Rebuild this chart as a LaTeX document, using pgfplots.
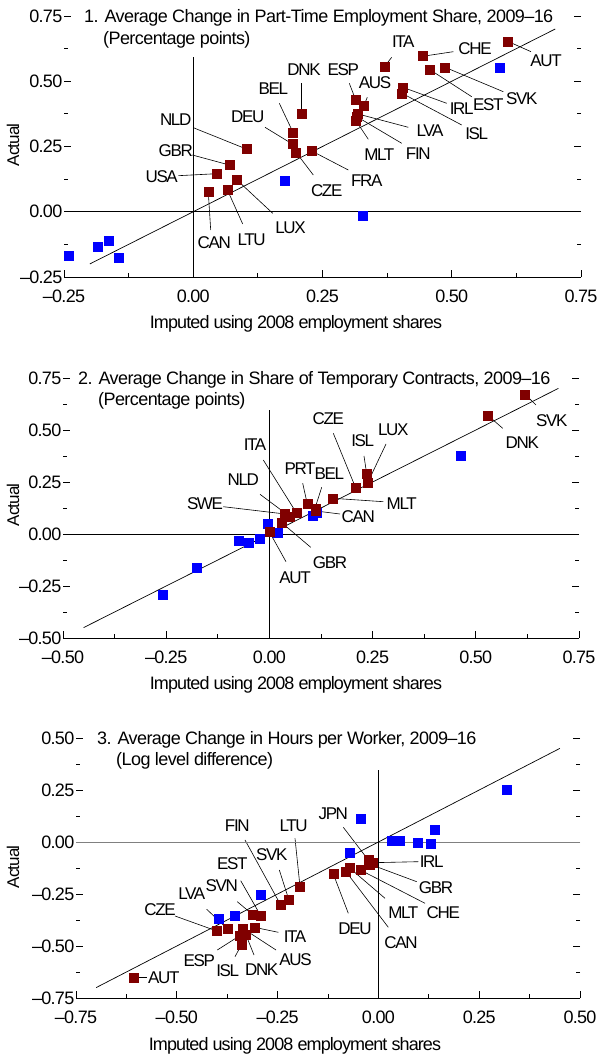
\documentclass[border=0pt]{standalone}
\usepackage{fontspec}
\setmainfont{Liberation Sans}[LetterSpace=-4]
\newfontfamily\titlefont{Liberation Sans}[LetterSpace=-3.2]
\newfontfamily\labfont{Liberation Sans}[LetterSpace=-8]
\newfontfamily\xlabfont{Liberation Sans}[LetterSpace=-5]
\usepackage{pgfplots}
\pgfplotsset{compat=1.18}
\definecolor{mred}{RGB}{128,0,0}
\definecolor{mblue}{RGB}{0,0,255}
\pgfplotsset{
  panel/.style={
    scale only axis, anchor=south west,
    axis line style={draw=none},
    tick style={black, line width=0.9pt},
    major tick length=7pt, minor tick length=4pt,
    minor tick num=1,
    xtick pos=left, ytick pos=both, yticklabel pos=left,
    tick label style={font=\fontsize{18}{20}\selectfont},
    yticklabel style={inner sep=1.5pt},
    xticklabel style={inner sep=2pt, yshift=-11pt},
    clip=false,
  },
  redpts/.style={only marks, mark=square*, mark size=4.5pt, mark options={draw=mred, fill=mred}},
  bluepts/.style={only marks, mark=square*, mark size=4.5pt, mark options={draw=mblue, fill=mblue}},
}
\tikzset{
  lab/.style={font=\labfont\fontsize{17}{17}\selectfont, inner sep=0pt},
  ttl/.style={font=\titlefont\fontsize{18}{18}\selectfont, anchor=base west, inner sep=0pt},
  xl/.style={font=\xlabfont\fontsize{18}{18}\selectfont, anchor=base, inner sep=0pt},
  yl/.style={font=\xlabfont\fontsize{17}{17}\selectfont, rotate=90, inner sep=0pt},
  ld/.style={black, line width=0.6pt},
}
\begin{document}
\begin{tikzpicture}
\useasboundingbox (0,0) rectangle (599pt,1055pt);
% ---------- labels, leader lines, titles (pixel coordinates) ----------
\begin{scope}[x=1pt,y=-1pt,shift={(0pt,1055pt)}]
% panel 1
\node[ttl] at (84,22.7) {1. Average Change in Part-Time Employment Share, 2009–16};
\node[ttl] at (103,44.5) {(Percentage points)};
\node[xl] at (296,329) {Imputed using 2008 employment shares};
\node[yl] at (13,145) {Actual};
\node[lab] at (175.7,120) {NLD}; \draw[ld] (193.3,127.7) -- (246.3,149);
\node[lab] at (175.7,150.7) {GBR}; \draw[ld] (192.3,155) -- (229.3,165);
\node[lab] at (161.7,176.7) {USA}; \draw[ld] (178.3,175.7) -- (216.7,173.7);
\node[lab] at (214.3,242.7) {CAN}; \draw[ld] (210.7,230) -- (208.3,192.3);
\node[lab] at (251.7,239.3) {LTU}; \draw[ld] (242.7,224) -- (227.3,189.7);
\node[lab] at (290.5,228) {LUX}; \draw[ld] (272.7,213.3) -- (237.3,180.3);
\node[lab] at (273.3,88.3) {BEL}; \draw[ld] (279.3,103.3) -- (293.3,133);
\node[lab] at (247.7,116.7) {DEU}; \draw[ld] (265,127.3) -- (292.3,144);
\node[lab] at (304,70) {DNK}; \draw[ld] (301.3,83.3) -- (301.3,114);
\node[lab] at (343.3,69.3) {ESP}; \draw[ld] (349.3,83.3) -- (355.7,100);
\node[lab] at (375,82.7) {AUS}; \draw[ld] (367.3,97.3) -- (364,105.3);
\node[lab] at (403.3,41.7) {ITA}; \draw[ld] (391.7,57.3) -- (384.7,66.3);
\node[lab] at (475,48.3) {CHE}; \draw[ld] (453.3,51.7) -- (422.7,56.3);
\node[lab] at (546,61) {AUT}; \draw[ld] (531,51.7) -- (507.7,41.3);
\node[lab] at (521.7,98.3) {SVK}; \draw[ld] (503.3,91.7) -- (445,67.3);
\node[lab] at (488.3,105) {EST}; \draw[ld] (471.7,96.7) -- (429.3,69.3);
\node[lab] at (461.7,108.3) {IRL}; \draw[ld] (446.7,103.3) -- (402.7,87.3);
\node[lab] at (476.7,133.3) {ISL}; \draw[ld] (461.7,125) -- (402,93.3);
\node[lab] at (430,130.7) {LVA}; \draw[ld] (408.3,127.3) -- (358,114);
\node[lab] at (418.3,154) {FIN}; \draw[ld] (401.7,143.3) -- (357.3,117);
\node[lab] at (379.3,155) {MLT}; \draw[ld] (368.3,139.3) -- (356.3,121.3);
\node[lab] at (366.7,181) {FRA}; \draw[ld] (348.3,170) -- (312.3,151.3);
\node[lab] at (326.7,190.7) {CZE}; \draw[ld] (313.3,175) -- (296,152.3);
% panel 2
\node[ttl] at (78,385) {2. Average Change in Share of Temporary Contracts, 2009–16};
\node[ttl] at (98,405.5) {(Percentage points)};
\node[xl] at (296,690) {Imputed using 2008 employment shares};
\node[yl] at (13,505) {Actual};
\node[lab] at (205,504) {SWE}; \draw[ld] (223.3,506.7) -- (285,514);
\node[lab] at (243.3,480) {NLD}; \draw[ld] (260,494.3) -- (290,516.7);
\node[lab] at (255,445) {ITA}; \draw[ld] (263.3,460) -- (296.7,513.3);
\node[lab] at (330,562.7) {GBR}; \draw[ld] (310.7,547.3) -- (281.7,522.7);
\node[lab] at (295,578) {AUT}; \draw[ld] (286,561.7) -- (269.3,531.7);
\node[lab] at (300,468.3) {PRT}; \draw[ld] (302.7,483.3) -- (307.3,504);
\node[lab] at (329.3,474) {BEL}; \draw[ld] (321.7,487.3) -- (315,508.3);
\node[lab] at (358.3,516.7) {CAN}; \draw[ld] (340,514) -- (316,511);
\node[lab] at (401.7,504) {MLT}; \draw[ld] (383.3,501.7) -- (332.7,498.3);
\node[lab] at (328.3,418.3) {CZE}; \draw[ld] (333.3,433.3) -- (355.7,488);
\node[lab] at (362.7,440.7) {ISL}; \draw[ld] (364,456) -- (366.7,474);
\node[lab] at (393.3,430) {LUX}; \draw[ld] (386,444) -- (367.7,482.7);
\node[lab] at (522.3,442.7) {DNK}; \draw[ld] (502.7,428.3) -- (487.7,415.3);
\node[lab] at (551.7,421) {SVK}; \draw[ld] (536,405) -- (525,394.3);
% panel 3
\node[ttl] at (97,745) {3. Average Change in Hours per Worker, 2009–16};
\node[ttl] at (116,766) {(Log level difference)};
\node[xl] at (295,1050) {Imputed using 2008 employment shares};
\node[yl] at (13,867) {Actual};
\node[lab] at (163.8,977.3) {AUT}; \draw[ld] (133.3,977.3) -- (147,977.3);
\node[lab] at (160,910) {CZE}; \draw[ld] (175,916) -- (216.7,931);
\node[lab] at (191.7,893.3) {LVA}; \draw[ld] (206.7,909.3) -- (227.7,929);
\node[lab] at (221.7,885.7) {SVN}; \draw[ld] (237.3,901.7) -- (252.3,914.3);
\node[lab] at (232.3,864) {EST}; \draw[ld] (240.7,880.7) -- (260.7,915.7);
\node[lab] at (237.3,826) {FIN}; \draw[ld] (245,840) -- (280.7,905);
\node[lab] at (271.7,855) {SVK}; \draw[ld] (279.3,870) -- (288.7,899.3);
\node[lab] at (293.7,826) {LTU}; \draw[ld] (295,838.3) -- (300,886.7);
\node[lab] at (295,936.7) {ITA}; \draw[ld] (278.3,932.3) -- (254.3,927.3);
\node[lab] at (295.5,959.3) {AUS}; \draw[ld] (276,950) -- (242.7,928.3);
\node[lab] at (261.7,970) {DNK}; \draw[ld] (254,955) -- (246,935);
\node[lab] at (227.7,970.7) {ISL}; \draw[ld] (235,956.7) -- (241.7,944.3);
\node[lab] at (199.3,960.7) {ESP}; \draw[ld] (217.3,950) -- (239.3,936);
\node[lab] at (333.3,813.3) {JPN}; \draw[ld] (343.3,827.3) -- (368.3,860);
\node[lab] at (431.7,861.7) {IRL}; \draw[ld] (418.3,861.7) -- (372.7,862.7);
\node[lab] at (436,887.7) {GBR}; \draw[ld] (416.7,881.7) -- (370,864.3);
\node[lab] at (443.3,912.7) {CHE}; \draw[ld] (425,903.3) -- (360.3,870);
\node[lab] at (403.3,912.7) {MLT}; \draw[ld] (385,898.3) -- (349.3,867.7);
\node[lab] at (401,942.7) {CAN}; \draw[ld] (388.3,927.3) -- (346,871.7);
\node[lab] at (355,928.3) {DEU}; \draw[ld] (348.3,913.3) -- (333.3,874);
\end{scope}

% ---------------- Panel 1 ----------------
\begin{axis}[panel, at={(64pt,778pt)}, width=517pt, height=261pt,
  xmin=-0.25, xmax=0.75, ymin=-0.25, ymax=0.75,
  xtick={-0.25,0,0.25,0.5,0.75}, xticklabels={–0.25,0.00,0.25,0.50,0.75},
  ytick={-0.25,0,0.25,0.5,0.75}, yticklabels={–0.25,0.00,0.25,0.50,0.75}]
\draw[black, line width=0.9pt] (rel axis cs:0,0) -- (rel axis cs:1,0);
\draw[black, line width=0.8pt] (axis cs:-0.25,0) -- (axis cs:0.75,0);
\draw[black, line width=0.8pt] (axis cs:0,-0.25) -- (axis cs:0,0.593);
\addplot[black, line width=0.7pt] coordinates {(-0.2,-0.2) (0.7,0.7)};
\addplot[bluepts] coordinates {(-0.240,-0.167) (-0.184,-0.135) (-0.164,-0.111) (-0.145,-0.175)
  (0.177,0.118) (0.327,-0.014) (0.592,0.551)};
\addplot[redpts] coordinates {
  (0.103,0.240) (0.070,0.179) (0.045,0.146) (0.085,0.121) (0.066,0.085) (0.029,0.075)
  (0.193,0.302) (0.192,0.260) (0.199,0.228) (0.209,0.375) (0.230,0.232)
  (0.314,0.428) (0.330,0.408) (0.319,0.375) (0.317,0.363) (0.315,0.347)
  (0.370,0.557) (0.444,0.596) (0.457,0.546) (0.487,0.553) (0.405,0.477) (0.404,0.454)
  (0.608,0.653)};
\end{axis}

% ---------------- Panel 2 ----------------
\begin{axis}[panel, at={(63pt,417pt)}, width=516pt, height=260pt,
  xmin=-0.5, xmax=0.75, ymin=-0.5, ymax=0.75,
  xtick={-0.5,-0.25,0,0.25,0.5,0.75}, xticklabels={–0.50,–0.25,0.00,0.25,0.50,0.75},
  ytick={-0.5,-0.25,0,0.25,0.5,0.75}, yticklabels={–0.50,–0.25,0.00,0.25,0.50,0.75}]
\draw[black, line width=0.9pt] (rel axis cs:0,0) -- (rel axis cs:1,0);
\draw[black, line width=0.8pt] (axis cs:-0.5,0) -- (axis cs:0.75,0);
\draw[black, line width=0.8pt] (axis cs:0,-0.5) -- (axis cs:0,0.596);
\addplot[black, line width=0.7pt] coordinates {(-0.45,-0.45) (0.70,0.70)};
\addplot[bluepts] coordinates {(0.463,0.378) (0.104,0.087) (0.115,0.100) (-0.259,-0.293)
  (-0.176,-0.160) (-0.075,-0.034) (-0.049,-0.042) (-0.023,-0.021) (-0.003,0.051) (0.019,0.006)};
\addplot[redpts] coordinates {
  (0.619,0.672) (0.529,0.571) (0.236,0.289) (0.238,0.247) (0.209,0.221) (0.153,0.172)
  (0.092,0.144) (0.111,0.124) (0.113,0.111) (0.038,0.096) (0.050,0.083) (0.066,0.100)
  (0.030,0.054) (0.000,0.011)};
\end{axis}

% ---------------- Panel 3 ----------------
\begin{axis}[panel, at={(76pt,57pt)}, width=504pt, height=260pt,
  xmin=-0.75, xmax=0.5, ymin=-0.75, ymax=0.5,
  xtick={-0.75,-0.5,-0.25,0,0.25,0.5}, xticklabels={–0.75,–0.50,–0.25,0.00,0.25,0.50},
  ytick={-0.75,-0.5,-0.25,0,0.25,0.5}, yticklabels={–0.75,–0.50,–0.25,0.00,0.25,0.50}]
\draw[black, line width=0.9pt] (rel axis cs:0,0) -- (rel axis cs:1,0);
\draw[gray, line width=0.8pt] (axis cs:-0.75,0) -- (axis cs:0.5,0);
\draw[black, line width=0.8pt] (axis cs:0,-0.75) -- (axis cs:0,0.346);
\addplot[black, line width=0.7pt] coordinates {(-0.70,-0.70) (0.45,0.45)};
\addplot[bluepts] coordinates {(-0.395,-0.367) (-0.357,-0.356) (-0.292,-0.255) (0.318,0.253)
  (-0.043,0.111) (-0.072,-0.050) (0.033,0.006) (0.054,0.006) (0.097,-0.001) (0.130,-0.006)
  (0.139,0.058)};
\addplot[redpts] coordinates {
  (-0.608,-0.651) (-0.401,-0.428) (-0.374,-0.418) (-0.313,-0.348) (-0.292,-0.354)
  (-0.308,-0.410) (-0.337,-0.415) (-0.345,-0.452) (-0.328,-0.447) (-0.339,-0.492)
  (-0.242,-0.303) (-0.223,-0.276) (-0.194,-0.215) (-0.112,-0.154) (-0.080,-0.143)
  (-0.072,-0.124) (-0.045,-0.135) (-0.025,-0.087) (-0.021,-0.107) (-0.014,-0.100)};
\end{axis}
\end{tikzpicture}
\end{document}
